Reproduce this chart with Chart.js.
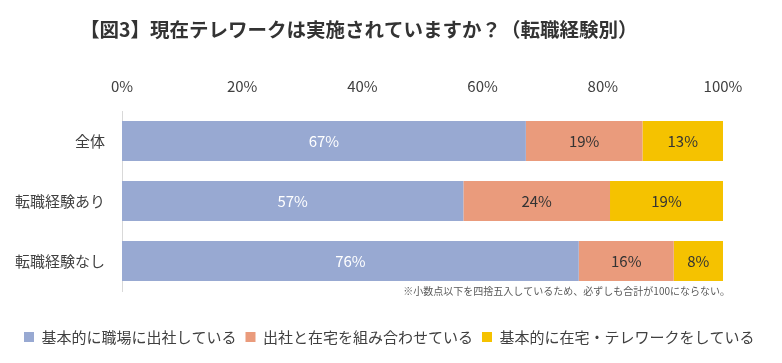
<!DOCTYPE html>
<html lang="ja">
<head>
<meta charset="utf-8">
<title>現在テレワークは実施されていますか？（転職経験別）</title>
<script src="https://cdn.jsdelivr.net/npm/chart.js@4.4.1/dist/chart.umd.min.js"></script>
<style>
    html, body { margin: 0; padding: 0; background: #ffffff; }
</style>
</head>
<body>
<canvas id="teleworkChart" width="782" height="363"></canvas>
<script>
// Values (percent). Bars fill 100%, labels show rounded values.
const categories = ['全体', '転職経験あり', '転職経験なし'];
const seriesNames = ['基本的に職場に出社している', '出社と在宅を組み合わせている', '基本的に在宅・テレワークをしている'];
const officeValues = [67.2, 56.8, 76.0];
const mixedValues = [19.4, 24.4, 15.8];
const remoteValues = [13.4, 18.8, 8.2];
const tickValues = [0, 20, 40, 60, 80, 100];

const titleText = '【図3】現在テレワークは実施されていますか？（転職経験別）';
const noteText = '※小数点以下を四捨五入しているため、必ずしも合計が100にならない。';

const fontFamily = "'Noto Sans CJK JP', 'Noto Sans', sans-serif";
const textColor = '#404040';

Chart.defaults.font.family = fontFamily;
Chart.defaults.color = textColor;

// Title, footnote and the percentages inside the bars
const figureText = {
    id: 'figureText',
    afterDatasetsDraw(chart) {
        const ctx = chart.ctx;
        ctx.save();
        ctx.font = '15px ' + fontFamily;
        ctx.textAlign = 'center';
        ctx.textBaseline = 'middle';
        chart.data.datasets.forEach(function(ds, i) {
            const meta = chart.getDatasetMeta(i);
            meta.data.forEach(function(bar, j) {
                ctx.fillStyle = i === 0 ? '#ffffff' : '#333333';
                ctx.fillText(Math.round(ds.data[j]) + '%', (bar.x + bar.base) / 2, bar.y);
            });
        });
        ctx.restore();
    },
    afterDraw(chart) {
        const ctx = chart.ctx;
        const area = chart.chartArea;
        ctx.save();
        ctx.fillStyle = '#333333';
        ctx.textBaseline = 'middle';
        ctx.textAlign = 'left';
        ctx.font = 'bold 19.5px ' + fontFamily;
        ctx.fillText(titleText, 80, 30);

        ctx.fillStyle = '#595959';
        ctx.textAlign = 'right';
        ctx.font = '10px ' + fontFamily;
        ctx.fillText(noteText, area.right + 7, area.bottom);
        ctx.restore();
    }
};

const ctx = document.getElementById('teleworkChart');

new Chart(ctx, {
    type: 'bar',
    data: {
        labels: categories,
        datasets: [
            { label: seriesNames[0], data: officeValues, backgroundColor: '#98a9d2' },
            { label: seriesNames[1], data: mixedValues, backgroundColor: '#ea9b7c' },
            { label: seriesNames[2], data: remoteValues, backgroundColor: '#f5c200' }
        ]
    },
    options: {
        indexAxis: 'y',
        responsive: false,
        animation: false,
        barPercentage: 0.667,
        categoryPercentage: 1,
        layout: {
            padding: { top: 61, left: 15, right: 0, bottom: 8.5 }
        },
        scales: {
            x: {
                position: 'top',
                stacked: true,
                min: 0,
                max: 100,
                afterBuildTicks: function(scale) {
                    scale.ticks = tickValues.map(function(v) { return { value: v }; });
                },
                afterFit: function(scale) {
                    scale.height = 50;
                    scale.paddingRight = 59;
                },
                grid: { display: false, drawTicks: false },
                border: { display: false },
                ticks: {
                    padding: 16,
                    color: textColor,
                    font: { size: 15 },
                    callback: function(value) { return value + '%'; }
                }
            },
            y: {
                stacked: true,
                afterFit: function(scale) {
                    scale.width = 107;
                },
                grid: { display: false, drawTicks: false },
                border: { display: true, color: '#d9d9d9', width: 1 },
                ticks: {
                    padding: 17,
                    color: textColor,
                    font: { size: 15 }
                }
            }
        },
        plugins: {
            legend: {
                position: 'bottom',
                align: 'start',
                // empty title only keeps room for the footnote
                title: {
                    display: true,
                    text: '',
                    padding: { top: 19.5, bottom: 0 },
                    font: { size: 10, lineHeight: 1 }
                },
                labels: {
                    boxWidth: 10,
                    boxHeight: 10,
                    padding: 9,
                    color: textColor,
                    font: { size: 15 }
                }
            },
            tooltip: { enabled: false }
        }
    },
    plugins: [figureText]
});
</script>
</body>
</html>
